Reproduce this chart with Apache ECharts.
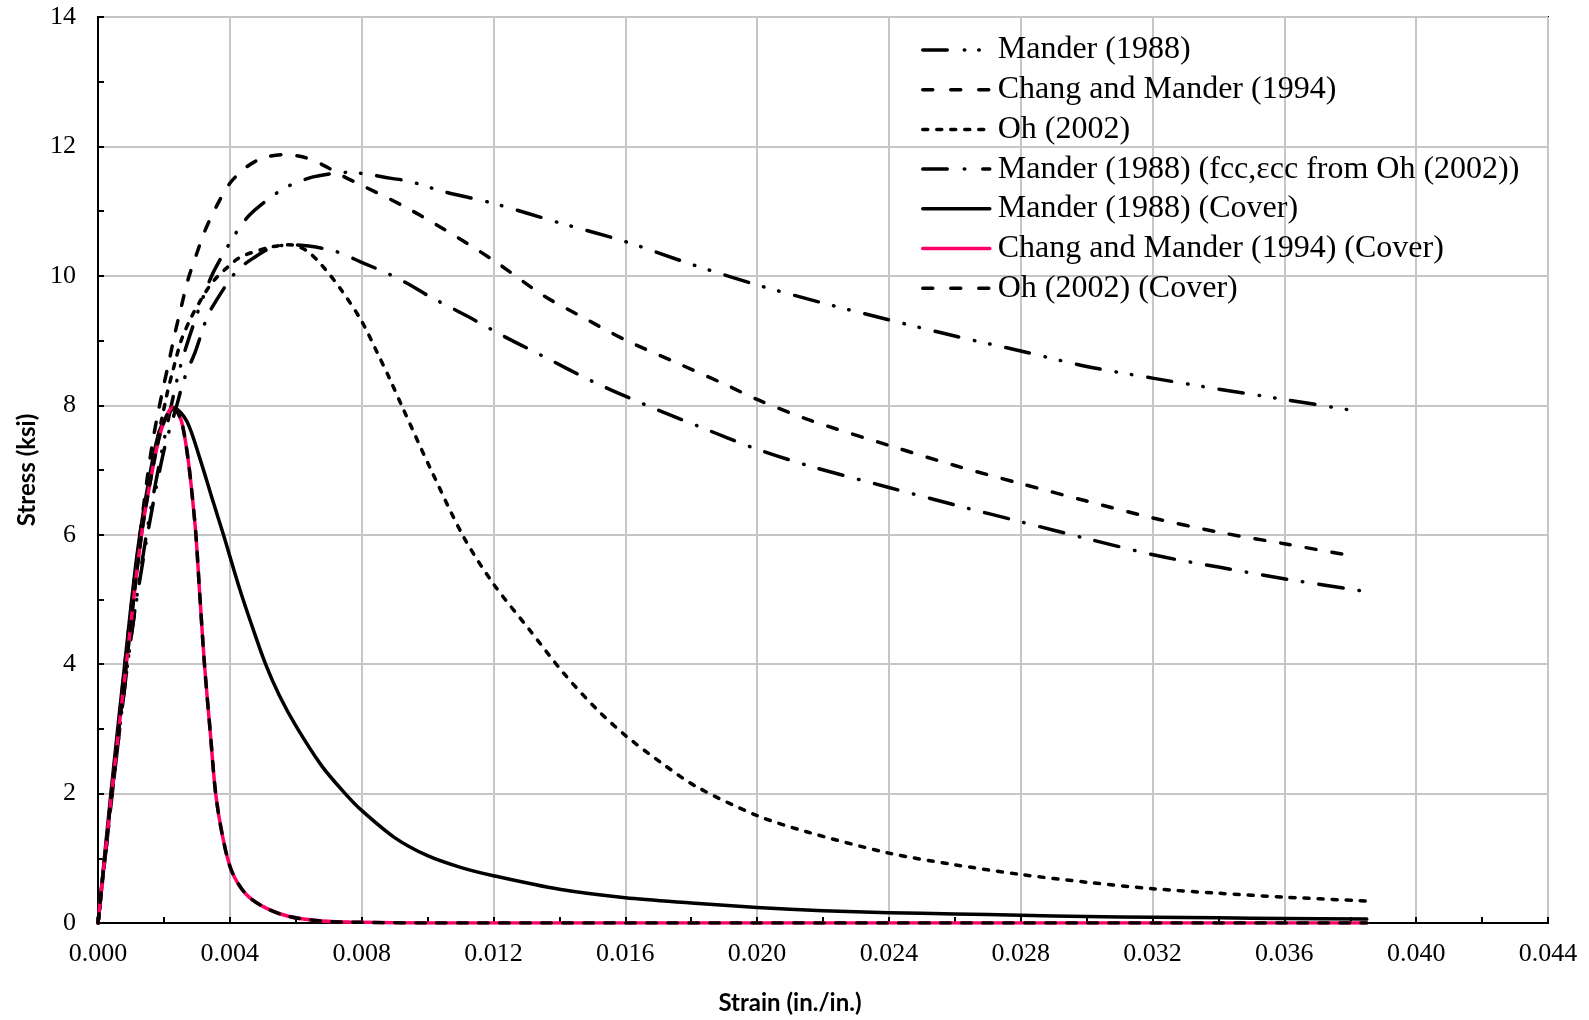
<!DOCTYPE html>
<html>
<head>
<meta charset="utf-8">
<script src="https://cdn.jsdelivr.net/npm/echarts@6/dist/echarts.min.js"></script>
<style>
html,body{margin:0;padding:0;background:#fff;}
#chart{width:1589px;height:1020px;}
</style>
</head>
<body>
<div id="chart"></div>
<script>
// Strain (in./in.) vs Stress (ksi)
const mander1988 = [[0,0],[0.0005,2.3],[0.001,4.4],[0.0015,6.1],[0.002,7.45],[0.0025,8.6],[0.003,9.4],[0.00344,9.99],[0.00385,10.38],[0.0041,10.59],[0.00435,10.79],[0.00466,10.97],[0.00521,11.2],[0.00567,11.36],[0.00612,11.46],[0.00653,11.53],[0.0071,11.58],[0.0076,11.6],[0.0083,11.56],[0.00886,11.51],[0.00946,11.46],[0.0105,11.3],[0.012,11.12],[0.014,10.82],[0.016,10.53],[0.018,10.18],[0.020,9.86],[0.022,9.58],[0.024,9.32],[0.026,9.07],[0.028,8.84],[0.030,8.6],[0.032,8.42],[0.034,8.25],[0.036,8.09],[0.0382,7.91]];
const changMander1994 = [[0,0],[0.0005,2.45],[0.001,4.85],[0.0013,6.1],[0.0015,6.9],[0.00167,7.47],[0.00182,7.88],[0.002,8.32],[0.00213,8.62],[0.00233,9.1],[0.00253,9.53],[0.00273,9.94],[0.003,10.35],[0.00324,10.69],[0.00359,11.07],[0.004,11.43],[0.0045,11.68],[0.005,11.82],[0.0056,11.87],[0.0062,11.84],[0.0068,11.72],[0.0074,11.55],[0.008,11.4],[0.0093,11.07],[0.0105,10.72],[0.012,10.24],[0.0135,9.7],[0.01453,9.41],[0.016,9.01],[0.0175,8.67],[0.019,8.33],[0.020,8.09],[0.0216,7.77],[0.024,7.38],[0.026,7.07],[0.028,6.79],[0.030,6.52],[0.032,6.26],[0.034,6.04],[0.036,5.86],[0.0382,5.66]];
const oh2002 = [[0,0],[0.0005,2.4],[0.001,4.7],[0.0015,6.65],[0.00208,8.14],[0.00228,8.55],[0.00253,9.01],[0.00284,9.37],[0.00309,9.6],[0.00334,9.81],[0.00359,9.97],[0.0039,10.12],[0.0042,10.25],[0.0045,10.33],[0.0052,10.44],[0.0058,10.48],[0.0063,10.4],[0.0068,10.16],[0.0074,9.77],[0.008,9.3],[0.00845,8.84],[0.00886,8.4],[0.00922,7.99],[0.01008,7.03],[0.01109,5.97],[0.012,5.24],[0.01311,4.52],[0.01413,3.86],[0.01514,3.3],[0.016,2.9],[0.01716,2.45],[0.01818,2.1],[0.020,1.66],[0.0215,1.41],[0.024,1.08],[0.026,0.9],[0.028,0.75],[0.030,0.63],[0.032,0.53],[0.034,0.46],[0.036,0.4],[0.0385,0.34]];
const manderFccOh = [[0,0],[0.0005,2.3],[0.001,4.4],[0.0015,6.0],[0.002,7.3],[0.00238,7.98],[0.00258,8.35],[0.00273,8.56],[0.00294,8.81],[0.00319,9.19],[0.00334,9.4],[0.00359,9.62],[0.004,9.94],[0.0043,10.12],[0.0047,10.27],[0.0052,10.42],[0.0058,10.48],[0.0064,10.46],[0.0072,10.38],[0.008,10.21],[0.00886,10.02],[0.0095,9.85],[0.0101,9.67],[0.0112,9.38],[0.0123,9.07],[0.0135,8.76],[0.015,8.37],[0.0166,8.01],[0.0183,7.66],[0.0199,7.34],[0.0216,7.06],[0.024,6.73],[0.026,6.46],[0.028,6.2],[0.030,5.94],[0.0322,5.67],[0.034,5.5],[0.0361,5.31],[0.0385,5.12]];
const manderCover = [[0,0],[0.0004,2.05],[0.0008,3.95],[0.0012,5.75],[0.0016,7.0],[0.0019,7.65],[0.00233,7.95],[0.0027,7.75],[0.00309,7.18],[0.0035,6.5],[0.0038,6.01],[0.0043,5.16],[0.0047,4.55],[0.0051,3.98],[0.0055,3.52],[0.006,3.05],[0.0068,2.42],[0.0075,2.0],[0.008,1.74],[0.009,1.32],[0.010,1.04],[0.011,0.86],[0.012,0.73],[0.014,0.52],[0.016,0.39],[0.018,0.31],[0.020,0.24],[0.022,0.19],[0.024,0.16],[0.026,0.14],[0.028,0.12],[0.030,0.1],[0.032,0.09],[0.034,0.08],[0.036,0.07],[0.0385,0.06]];
const changManderCover = [[0,0],[0.0004,1.95],[0.00086,4.0],[0.00132,6.0],[0.00172,7.18],[0.00197,7.7],[0.00228,7.97],[0.0025,7.8],[0.0026,7.6],[0.00273,7.18],[0.00285,6.65],[0.00297,6.0],[0.00309,5.06],[0.00323,4.0],[0.00341,2.93],[0.00357,2.0],[0.00378,1.34],[0.00405,0.81],[0.0045,0.44],[0.0051,0.23],[0.0058,0.1],[0.0068,0.03],[0.008,0.01],[0.010,0],[0.020,0],[0.0385,0]];
const ohCover = [[0,0],[0.0004,1.95],[0.00086,4.0],[0.00132,6.0],[0.00172,7.18],[0.00197,7.7],[0.00228,7.97],[0.0025,7.8],[0.0026,7.6],[0.00273,7.18],[0.00285,6.65],[0.00297,6.0],[0.00309,5.06],[0.00323,4.0],[0.00341,2.93],[0.00357,2.0],[0.00378,1.34],[0.00405,0.81],[0.0045,0.44],[0.0051,0.23],[0.0058,0.1],[0.0068,0.03],[0.008,0.01],[0.010,0],[0.020,0],[0.0385,0]];

const seriesNames = ['Mander (1988)','Chang and Mander (1994)','Oh (2002)','Mander (1988) (fcc,\u03b5cc from Oh (2002))','Mander (1988) (Cover)','Chang and Mander (1994) (Cover)','Oh (2002) (Cover)'];
const seriesData = [mander1988, changMander1994, oh2002, manderFccOh, manderCover, changManderCover, ohCover];
const xTicks = {min:0, max:0.044, interval:0.004};
const yTicks = {min:0, max:14, interval:2};
const xTitle = 'Strain (in./in.)';
const yTitle = 'Stress (ksi)';

const styles = [
  {color:'#000', type:[24.5,16,0.5,15,0.5,16]},
  {color:'#000', type:[10,16]},
  {color:'#000', type:[5,9]},
  {color:'#000', type:[24.5,16,0.5,16]},
  {color:'#000', type:'solid'},
  {color:'#FF0066', type:'solid'},
  {color:'#000', type:[9.5,11.5]}
];
const legendTypes = [
  [24.5,17,0.5,14,0.5,60],
  [10,18],
  [5,9],
  [24.5,17,0.5,18],
  'solid',
  'solid',
  [10,18]
];

const chart = echarts.init(document.getElementById('chart'), null, {renderer:'canvas'});
const serif = '"Liberation Serif", "Times New Roman", serif';

chart.setOption({
  backgroundColor:'#fff',
  animation:false,
  grid:{left:98, right:41, top:17, bottom:97, show:true, borderColor:'#000', borderWidth:2, backgroundColor:'transparent'},
  xAxis:{
    type:'value', min:xTicks.min, max:xTicks.max, interval:xTicks.interval,
    axisLine:{show:true, onZero:false, lineStyle:{color:'#000', width:2}},
    axisTick:{show:true, inside:true, length:6, lineStyle:{color:'#000', width:2}},
    minorTick:{show:true, splitNumber:2, length:6, lineStyle:{color:'#000', width:2}},
    splitLine:{show:true, lineStyle:{color:'#C6C6C6', width:2}},
    axisLabel:{color:'#000', fontFamily:serif, fontSize:26, margin:18, formatter:v=>v.toFixed(3)}
  },
  yAxis:{
    type:'value', min:yTicks.min, max:yTicks.max, interval:yTicks.interval,
    axisLine:{show:true, onZero:false, lineStyle:{color:'#000', width:2}},
    axisTick:{show:true, inside:true, length:6, lineStyle:{color:'#000', width:2}},
    minorTick:{show:true, splitNumber:2, length:6, lineStyle:{color:'#000', width:2}},
    splitLine:{show:true, lineStyle:{color:'#C6C6C6', width:2}},
    axisLabel:{color:'#000', fontFamily:serif, fontSize:26, margin:22}
  },
  legend:{
    orient:'vertical', left:921, top:34, padding:0,
    itemWidth:67, itemHeight:14, itemGap:7.7,
    itemStyle:{opacity:0},
    textStyle:{color:'#000', fontFamily:serif, fontSize:32, lineHeight:32, padding:[0,0,0,3]},
    data:seriesNames.map((name,i)=>({
      name:name,
      itemStyle:{opacity:0},
      lineStyle:{color:styles[i].color, width:3.5, type:legendTypes[i], cap:'round', opacity:1}
    }))
  },
  graphic:[
    {type:'text', x:790, y:1003, style:{text:xTitle, fill:'#000', font:'bold 24px Lato, "Open Sans", sans-serif', textAlign:'center', textVerticalAlign:'middle'}},
    {type:'text', x:27, y:470, rotation:Math.PI/2, style:{text:yTitle, fill:'#000', font:'bold 24px Lato, "Open Sans", sans-serif', textAlign:'center', textVerticalAlign:'middle'}}
  ],
  series: seriesNames.map((name,i)=>({
    name:name, type:'line', data:seriesData[i], showSymbol:false, symbol:'none',
    smooth:0.3, clip:true,
    lineStyle:{color:styles[i].color, width:3.5, type:styles[i].type, cap:'round', join:'round'},
    itemStyle:{color:styles[i].color},
    emphasis:{disabled:true},
    z:2+i
  }))
});
</script>
</body>
</html>
